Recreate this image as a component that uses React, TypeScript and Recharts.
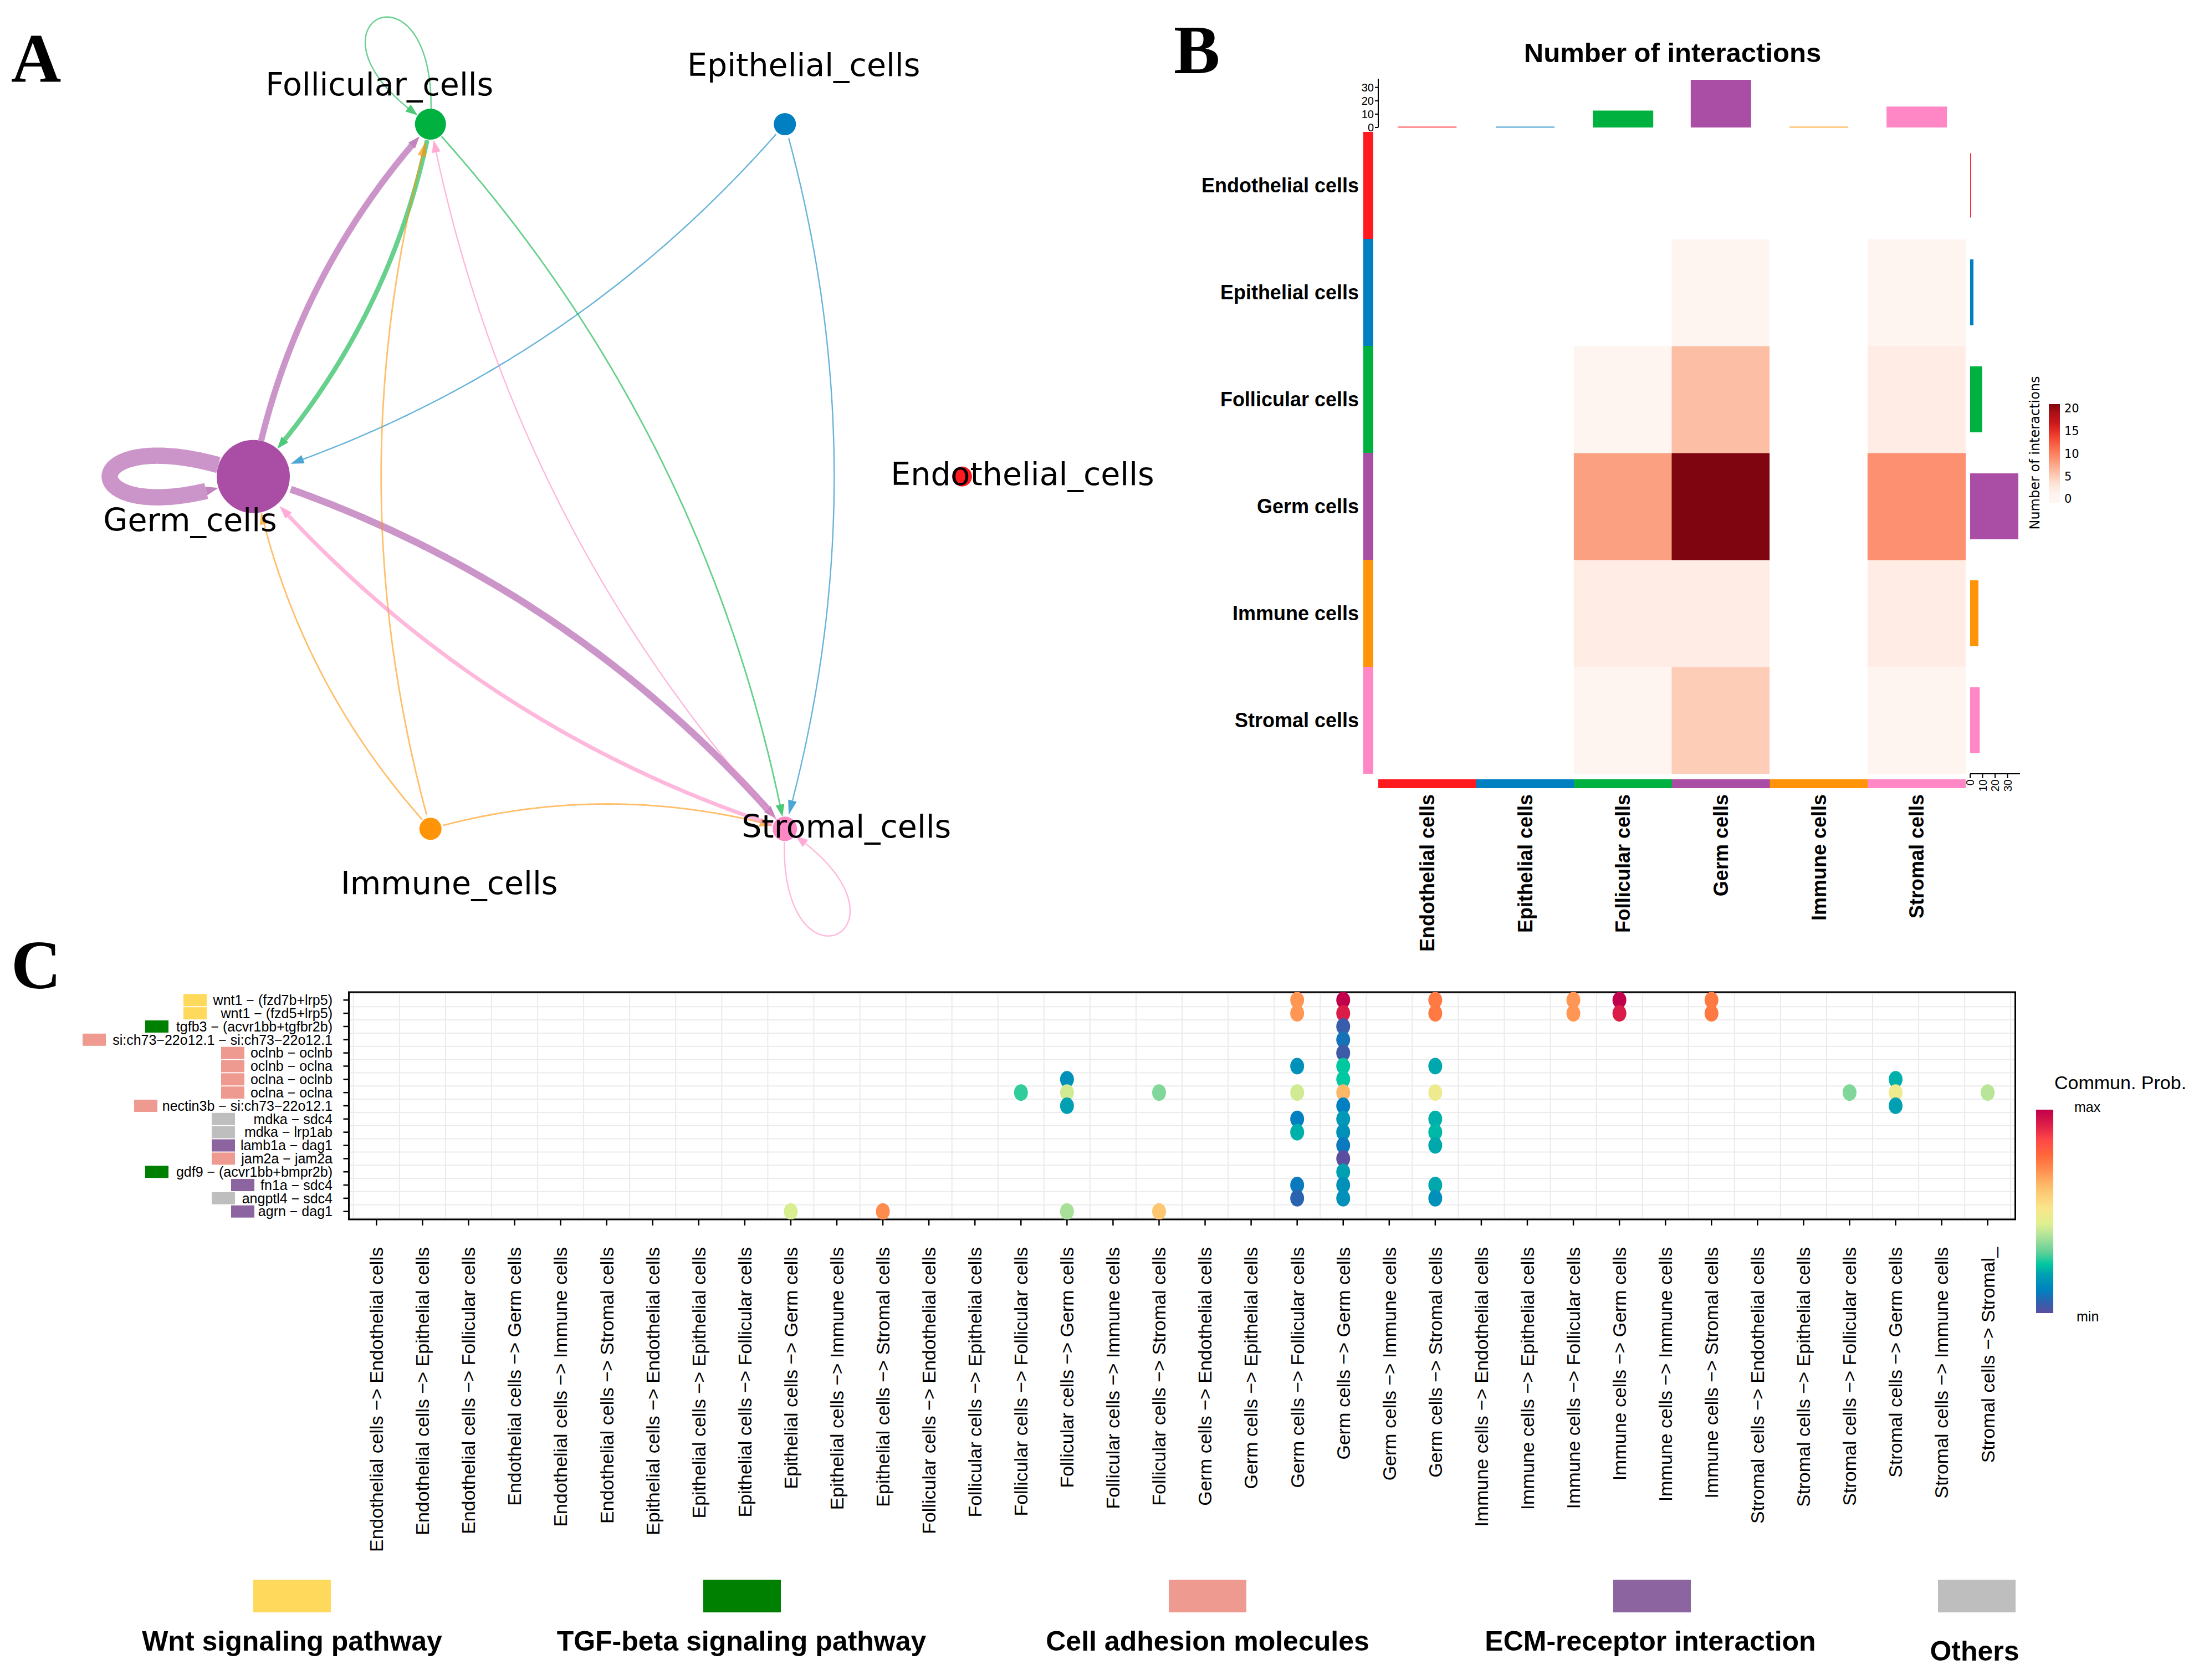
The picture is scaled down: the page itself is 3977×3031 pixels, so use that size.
import React from 'react';
import {
  ScatterChart, Scatter, XAxis, YAxis, ReferenceLine, ReferenceArea, CartesianGrid,
  BarChart, Bar, Cell,
} from 'recharts';

// ============================ DATA ============================
const cellGroups = ['Endothelial_cells', 'Epithelial_cells', 'Follicular_cells', 'Germ_cells', 'Immune_cells', 'Stromal_cells'];
const cellGroupNames = ['Endothelial cells', 'Epithelial cells', 'Follicular cells', 'Germ cells', 'Immune cells', 'Stromal cells'];

// number of interactions: sender (row) -> receiver (column)
const fromEndothelial = [0, 0, 0, 0, 0, 0];
const fromEpithelial = [0, 0, 0, 1, 0, 1];
const fromFollicular = [0, 0, 1, 6, 0, 2];
const fromGerm = [0, 0, 8, 21, 0, 9];
const fromImmune = [0, 0, 2, 2, 0, 2];
const fromStromal = [0, 0, 1, 5, 0, 1];
const interactionCounts = [fromEndothelial, fromEpithelial, fromFollicular, fromGerm, fromImmune, fromStromal];

const incomingTotals = [0, 0, 12, 35, 0, 15];
const outgoingTotals = [0, 2, 9, 38, 6, 7];
const barAxisTicks = [0, 10, 20, 30];
const heatLegendTicks = [0, 5, 10, 15, 20];

// circle layout of the network and vertex sizes
const layoutX = [1, 0.5, -0.5, -1, -0.5, 0.5];
const layoutY = [0, 0.866, 0.866, 0, -0.866, -0.866];
const vertexSize = [18, 20, 28, 66, 20, 22];

// panel C
const lrPairs = [
  'wnt1 \u2212 (fzd7b+lrp5)',
  'wnt1 \u2212 (fzd5+lrp5)',
  'tgfb3 \u2212 (acvr1bb+tgfbr2b)',
  'si:ch73\u221222o12.1 \u2212 si:ch73\u221222o12.1',
  'oclnb \u2212 oclnb',
  'oclnb \u2212 oclna',
  'oclna \u2212 oclnb',
  'oclna \u2212 oclna',
  'nectin3b \u2212 si:ch73\u221222o12.1',
  'mdka \u2212 sdc4',
  'mdka \u2212 lrp1ab',
  'lamb1a \u2212 dag1',
  'jam2a \u2212 jam2a',
  'gdf9 \u2212 (acvr1bb+bmpr2b)',
  'fn1a \u2212 sdc4',
  'angptl4 \u2212 sdc4',
  'agrn \u2212 dag1',
];
const pathwayNames = ['Wnt signaling pathway', 'TGF-beta signaling pathway', 'Cell adhesion molecules', 'ECM-receptor interaction', 'Others'];
const lrPathway = [
  'Wnt signaling pathway', 'Wnt signaling pathway', 'TGF-beta signaling pathway', 'Cell adhesion molecules',
  'Cell adhesion molecules', 'Cell adhesion molecules', 'Cell adhesion molecules', 'Cell adhesion molecules',
  'Cell adhesion molecules', 'Others', 'Others', 'ECM-receptor interaction', 'Cell adhesion molecules',
  'TGF-beta signaling pathway', 'ECM-receptor interaction', 'Others', 'ECM-receptor interaction',
];
const senderReceiver = [
  'Endothelial cells \u2212> Endothelial cells', 'Endothelial cells \u2212> Epithelial cells', 'Endothelial cells \u2212> Follicular cells',
  'Endothelial cells \u2212> Germ cells', 'Endothelial cells \u2212> Immune cells', 'Endothelial cells \u2212> Stromal cells',
  'Epithelial cells \u2212> Endothelial cells', 'Epithelial cells \u2212> Epithelial cells', 'Epithelial cells \u2212> Follicular cells',
  'Epithelial cells \u2212> Germ cells', 'Epithelial cells \u2212> Immune cells', 'Epithelial cells \u2212> Stromal cells',
  'Follicular cells \u2212> Endothelial cells', 'Follicular cells \u2212> Epithelial cells', 'Follicular cells \u2212> Follicular cells',
  'Follicular cells \u2212> Germ cells', 'Follicular cells \u2212> Immune cells', 'Follicular cells \u2212> Stromal cells',
  'Germ cells \u2212> Endothelial cells', 'Germ cells \u2212> Epithelial cells', 'Germ cells \u2212> Follicular cells',
  'Germ cells \u2212> Germ cells', 'Germ cells \u2212> Immune cells', 'Germ cells \u2212> Stromal cells',
  'Immune cells \u2212> Endothelial cells', 'Immune cells \u2212> Epithelial cells', 'Immune cells \u2212> Follicular cells',
  'Immune cells \u2212> Germ cells', 'Immune cells \u2212> Immune cells', 'Immune cells \u2212> Stromal cells',
  'Stromal cells \u2212> Endothelial cells', 'Stromal cells \u2212> Epithelial cells', 'Stromal cells \u2212> Follicular cells',
  'Stromal cells \u2212> Germ cells', 'Stromal cells \u2212> Immune cells', 'Stromal cells \u2212> Stromal_',
];
// dots: sender->receiver index, ligand-receptor index, scaled communication probability
const dotPair = [
  9, 11, 14, 15, 15, 15, 15, 17, 17,
  20, 20, 20, 20, 20, 20, 20, 20,
  21, 21, 21, 21, 21, 21, 21, 21, 21, 21, 21, 21, 21, 21, 21, 21,
  23, 23, 23, 23, 23, 23, 23, 23, 23,
  26, 26, 27, 27, 29, 29, 32, 33, 33, 33, 35,
];
const dotLR = [
  16, 16, 7, 6, 7, 8, 16, 7, 16,
  0, 1, 5, 7, 9, 10, 14, 15,
  0, 1, 2, 3, 4, 5, 6, 7, 8, 9, 10, 11, 12, 13, 14, 15,
  0, 1, 5, 7, 9, 10, 11, 14, 15,
  0, 1, 0, 1, 0, 1, 7, 6, 7, 8, 7,
];
const dotProb = [
  0.43, 0.71, 0.27, 0.15, 0.42, 0.19, 0.37, 0.33, 0.60,
  0.69, 0.69, 0.15, 0.42, 0.11, 0.21, 0.10, 0.06,
  1.0, 0.93, 0.04, 0.085, 0.035, 0.24, 0.24, 0.63, 0.11, 0.17, 0.15, 0.10, 0.0, 0.19, 0.15, 0.15,
  0.74, 0.74, 0.20, 0.48, 0.21, 0.22, 0.20, 0.20, 0.15,
  0.69, 0.69, 1.0, 0.93, 0.74, 0.74, 0.33, 0.21, 0.48, 0.19, 0.39,
];

// ============================ STYLE ============================
const SANS = "'Liberation Sans', Arial, Helvetica, sans-serif";
const DEJAVU = "'DejaVu Sans', 'Liberation Sans', sans-serif";
const SERIF = "'Liberation Serif', 'Times New Roman', serif";
const GROUP_COLORS = ['#FF1A1F', '#0080C0', '#00B140', '#AA4EA5', '#FF9408', '#FF87C5'];
const PATHWAY_COLORS = ['#FFD95C', '#008000', '#EE9A90', '#8B64A0', '#BEBEBE'];
const LABEL_OFFSETS = [[109, -2], [34, -104], [-92, -69], [-114, 81], [34, 101], [111, -1]];
const LR_SWATCH_X = [331, 331, 262, 149, 399, 399, 399, 399, 242, 382, 382, 382, 382, 262, 417, 382, 417];
const REDS = ['#FFF5F0', '#FEE0D2', '#FCBBA1', '#FC9272', '#FB6A4A', '#EF3B2C', '#CB181D', '#A50F15', '#67000D'];
const SPECTRAL: [number, string][] = [
  [0, '#5B4EA0'], [0.06, '#2A64B0'], [0.11, '#0080C0'], [0.19, '#00A0B2'], [0.24, '#00C8A0'],
  [0.30, '#62D098'], [0.37, '#A8E09A'], [0.44, '#E0F090'], [0.52, '#FBE48A'], [0.62, '#FDBE6A'],
  [0.70, '#FF9050'], [0.77, '#FF6A3A'], [0.85, '#FF4848'], [0.92, '#E02048'], [1, '#C0004A'],
];

function hexRgb(h: string) {
  const n = parseInt(h.slice(1), 16);
  return [(n >> 16) & 255, (n >> 8) & 255, n & 255];
}
function mix(a: string, b: string, f: number) {
  const A = hexRgb(a), B = hexRgb(b);
  const c = A.map((v, i) => Math.round(v + (B[i] - v) * f));
  return '#' + c.map((v) => v.toString(16).padStart(2, '0')).join('');
}
function positioned(stops: [number, string][], t: number) {
  const tt = Math.max(0, Math.min(1, t));
  for (let i = 0; i < stops.length - 1; i++) {
    if (tt <= stops[i + 1][0]) {
      const f = (tt - stops[i][0]) / (stops[i + 1][0] - stops[i][0]);
      return mix(stops[i][1], stops[i + 1][1], f);
    }
  }
  return stops[stops.length - 1][1];
}
const REDS_STOPS: [number, string][] = REDS.map((c, i) => [i / (REDS.length - 1), c]);
const HEAT_MIN = 1, HEAT_MAX = 22;
function heatColor(v: number) {
  if (v <= 0) return '#FFFFFF';
  return positioned(REDS_STOPS, (v - HEAT_MIN) / (HEAT_MAX - HEAT_MIN));
}
function heatRamp(v: number) {
  return positioned(REDS_STOPS, (v - HEAT_MIN) / (HEAT_MAX - HEAT_MIN));
}
const probColor = (p: number) => positioned(SPECTRAL, p);

// ============================ PANEL A ============================
const A_W = 2110, A_H = 1750;
const A_XDOM: [number, number] = [-1.7146, -1.7146 + A_W / 639.5];
const A_YDOM: [number, number] = [1.1712 - A_H / 734, 1.1712];
const CURVE = 0.14;
const ARROW_LEN = 20, ARROW_HALF = 8;
const edgeWidth = (n: number) => Math.max(2.4, 1.4 * n);

function trimmedPath(pts: number[][], a: number, c: number) {
  return pts.slice(a, c + 1).map((p, i) => `${i ? 'L' : 'M'}${p[0].toFixed(1)},${p[1].toFixed(1)}`).join('');
}

function arrowAt(pts: number[][], a: number, b: number) {
  const tip = pts[b];
  let c = b;
  while (c > a && Math.hypot(pts[c][0] - tip[0], pts[c][1] - tip[1]) < ARROW_LEN) c--;
  const base = pts[c];
  const ux = tip[0] - base[0], uy = tip[1] - base[1];
  const L = Math.hypot(ux, uy) || 1;
  const nx = -uy / L, ny = ux / L;
  const poly = `${tip[0]},${tip[1]} ${base[0] + nx * ARROW_HALF},${base[1] + ny * ARROW_HALF} ${base[0] - nx * ARROW_HALF},${base[1] - ny * ARROW_HALF}`;
  return { c, poly };
}

function EdgeShape(props: any) {
  const { x1, y1, x2, y2, rs, rt, color, width } = props;
  if (![x1, y1, x2, y2].every(Number.isFinite)) return null;
  const dx = x2 - x1, dy = y2 - y1;
  const cx = (x1 + x2) / 2 + CURVE * dy, cy = (y1 + y2) / 2 - CURVE * dx;
  const pts: number[][] = [];
  const N = 200;
  for (let i = 0; i <= N; i++) {
    const t = i / N, u = 1 - t;
    pts.push([u * u * x1 + 2 * u * t * cx + t * t * x2, u * u * y1 + 2 * u * t * cy + t * t * y2]);
  }
  let a = 0;
  while (a < N && Math.hypot(pts[a][0] - x1, pts[a][1] - y1) < rs) a++;
  let b = N;
  while (b > a && Math.hypot(pts[b][0] - x2, pts[b][1] - y2) < rt) b--;
  const { c, poly } = arrowAt(pts, a, b);
  return (
    <g>
      <path d={trimmedPath(pts, a, c)} fill="none" stroke={color} strokeOpacity={0.6} strokeWidth={width} />
      <polygon points={poly} fill={color} fillOpacity={0.7} />
    </g>
  );
}

function LoopShape(props: any) {
  const { x1, y1, x2, y2, r, reach, spread, color, width } = props;
  if (![x1, y1, x2, y2].every(Number.isFinite)) return null;
  const dx = x2 - x1, dy = y2 - y1;
  const L = Math.hypot(dx, dy) || 1;
  const ux = dx / L, uy = dy / L;
  const D = reach / (0.75 * Math.cos(spread));
  const rot = (ang: number) => [ux * Math.cos(ang) - uy * Math.sin(ang), ux * Math.sin(ang) + uy * Math.cos(ang)];
  const pa = rot(spread), pb = rot(-spread);
  const P1 = [x2 + D * pa[0], y2 + D * pa[1]], P2 = [x2 + D * pb[0], y2 + D * pb[1]];
  const pts: number[][] = [];
  const N = 200;
  for (let i = 0; i <= N; i++) {
    const t = i / N, u = 1 - t;
    const w0 = u * u * u + t * t * t, w1 = 3 * u * u * t, w2 = 3 * u * t * t;
    pts.push([w0 * x2 + w1 * P1[0] + w2 * P2[0], w0 * y2 + w1 * P1[1] + w2 * P2[1]]);
  }
  let a = 0;
  while (a < N && Math.hypot(pts[a][0] - x2, pts[a][1] - y2) < r) a++;
  let b = N;
  while (b > a && Math.hypot(pts[b][0] - x2, pts[b][1] - y2) < r) b--;
  const { c, poly } = arrowAt(pts, a, b);
  return (
    <g>
      <path d={trimmedPath(pts, a, c)} fill="none" stroke={color} strokeOpacity={0.6} strokeWidth={width} />
      <polygon points={poly} fill={color} fillOpacity={0.7} />
    </g>
  );
}

function NodeShape(props: any) {
  const { cx, cy, payload } = props;
  if (!Number.isFinite(cx) || !Number.isFinite(cy)) return null;
  const i = payload.idx;
  const off = LABEL_OFFSETS[i];
  return (
    <g>
      <circle cx={cx} cy={cy} r={vertexSize[i]} fill={GROUP_COLORS[i]} />
      <text x={cx + off[0]} y={cy + off[1]} dy="0.3em" textAnchor="middle" fontFamily={DEJAVU} fontSize={57} fill="#000">
        {cellGroups[i]}
      </text>
    </g>
  );
}

const nodeData = cellGroups.map((name, i) => ({ x: layoutX[i], y: layoutY[i], idx: i, name }));
const edgeList: { s: number; t: number; n: number }[] = [];
const loopList: { s: number; n: number }[] = [];
interactionCounts.forEach((row, s) => row.forEach((n, t) => {
  if (n > 0) (s === t ? loopList.push({ s, n }) : edgeList.push({ s, t, n }));
}));

function PanelA() {
  return (
    <div style={{ position: 'absolute', left: 0, top: 0 }}>
      <ScatterChart width={A_W} height={A_H} margin={{ top: 0, right: 0, bottom: 0, left: 0 }} style={{ overflow: 'visible' }}>
        <XAxis type="number" dataKey="x" domain={A_XDOM} hide allowDataOverflow />
        <YAxis type="number" dataKey="y" domain={A_YDOM} hide allowDataOverflow />
        {edgeList.map((e) => (
          <ReferenceLine
            key={`e${e.s}-${e.t}`}
            ifOverflow="visible"
            segment={[{ x: layoutX[e.s], y: layoutY[e.s] }, { x: layoutX[e.t], y: layoutY[e.t] }]}
            shape={(p: any) => (
              <EdgeShape {...p} rs={vertexSize[e.s]} rt={vertexSize[e.t]} color={GROUP_COLORS[e.s]} width={edgeWidth(e.n)} />
            )}
          />
        ))}
        {loopList.map((l) => (
          <ReferenceLine
            key={`l${l.s}`}
            ifOverflow="visible"
            segment={[{ x: 0, y: 0 }, { x: layoutX[l.s], y: layoutY[l.s] }]}
            shape={(p: any) => (
              <LoopShape
                {...p}
                r={vertexSize[l.s]}
                reach={l.n > 5 ? 259 : 212}
                spread={l.n > 5 ? 0.36 : 0.53}
                color={GROUP_COLORS[l.s]}
                width={edgeWidth(l.n)}
              />
            )}
          />
        ))}
        <Scatter data={nodeData} isAnimationActive={false} shape={(p: any) => <NodeShape {...p} />} />
      </ScatterChart>
    </div>
  );
}

// ============================ PANEL B ============================
const HM = { left: 2487, top: 238, width: 1060, height: 1158 };

function BarShape(p: any) {
  const { x, y, width, height, fill } = p;
  if (![x, y, width, height].every(Number.isFinite)) return null;
  return <path d={`M${x},${y}h${width}v${height}h${-width}Z`} fill={fill} stroke={fill} strokeWidth={3} />;
}

const heatData = cellGroupNames.map((name) => {
  const o: any = { name };
  cellGroupNames.forEach((_, i) => { o[`row${i}`] = 1; });
  return o;
});
const stripData = cellGroupNames.map((name) => ({ name, band: 1 }));
const incomingData = cellGroupNames.map((name, j) => ({ name, value: incomingTotals[j] }));
const outgoingData = cellGroupNames.map((name, i) => ({ name, value: outgoingTotals[i] }));

function RowLabelTick(props: any) {
  const { x, y, payload } = props;
  return (
    <text x={x} y={y} dy="0.35em" textAnchor="end" fontFamily={SANS} fontWeight="bold" fontSize={36} fill="#000">
      {payload.value}
    </text>
  );
}
function ColLabelTick(props: any) {
  const { x, y, payload } = props;
  return (
    <text x={x} y={y} dy="0.35em" textAnchor="end" transform={`rotate(-90 ${x} ${y})`} fontFamily={SANS} fontWeight="bold" fontSize={36} fill="#000">
      {payload.value}
    </text>
  );
}
function SmallRotTick(props: any) {
  const { x, y, payload } = props;
  return (
    <text x={x} y={y} dy="0.35em" textAnchor="end" transform={`rotate(-90 ${x} ${y})`} fontFamily={SANS} fontSize={20} fill="#000">
      {payload.value}
    </text>
  );
}
function SmallLeftTick(props: any) {
  const { x, y, payload } = props;
  return (
    <text x={x} y={y} dy="0.35em" textAnchor="end" fontFamily={SANS} fontSize={20} fill="#000">
      {payload.value}
    </text>
  );
}

function PanelB() {
  const rowsBottomUp = [5, 4, 3, 2, 1, 0];
  return (
    <>
      {/* heatmap body */}
      <div style={{ position: 'absolute', left: HM.left, top: HM.top }}>
        <BarChart width={HM.width} height={HM.height} data={heatData} margin={{ top: 0, right: 0, bottom: 0, left: 0 }} barCategoryGap={0} barGap={0}>
          <XAxis dataKey="name" type="category" hide />
          <YAxis type="number" domain={[0, 6]} hide allowDataOverflow />
          {rowsBottomUp.map((i) => (
            <Bar key={i} dataKey={`row${i}`} stackId="heat" isAnimationActive={false}>
              {cellGroupNames.map((_, j) => {
                const col = heatColor(interactionCounts[i][j]);
                return <Cell key={j} fill={col} stroke={col} strokeWidth={1} />;
              })}
            </Bar>
          ))}
        </BarChart>
      </div>
      {/* top annotation: incoming */}
      <div style={{ position: 'absolute', left: HM.left - 47, top: 130 }}>
        <BarChart width={HM.width + 47} height={116} data={incomingData} margin={{ top: 12, right: 0, bottom: 16, left: 0 }} barCategoryGap="20%">
          <XAxis dataKey="name" type="category" hide />
          <YAxis
            type="number" domain={[0, 36.5]} ticks={barAxisTicks} interval={0} width={47} tickSize={6} tickMargin={2} allowDataOverflow
            axisLine={{ stroke: '#000', strokeWidth: 2 }} tickLine={{ stroke: '#000', strokeWidth: 2 }}
            tick={(p: any) => <SmallLeftTick {...p} />}
          />
          <Bar dataKey="value" isAnimationActive={false} shape={(p: any) => <BarShape {...p} />}>
            {incomingData.map((_, j) => <Cell key={j} fill={GROUP_COLORS[j]} />)}
          </Bar>
        </BarChart>
      </div>
      {/* right annotation: outgoing */}
      <div style={{ position: 'absolute', left: 3540, top: HM.top }}>
        <BarChart layout="vertical" width={120} height={HM.height + 60} data={outgoingData} margin={{ top: 0, right: 15, bottom: 0, left: 15 }} barCategoryGap="20%">
          <XAxis
            type="number" domain={[0, 40]} ticks={barAxisTicks} height={60} tickSize={8} tickMargin={2} allowDataOverflow
            axisLine={{ stroke: '#000', strokeWidth: 2 }} tickLine={{ stroke: '#000', strokeWidth: 2 }}
            tick={(p: any) => <SmallRotTick {...p} />} interval={0}
          />
          <YAxis type="category" dataKey="name" hide />
          <Bar dataKey="value" isAnimationActive={false} shape={(p: any) => <BarShape {...p} />}>
            {outgoingData.map((_, i) => <Cell key={i} fill={GROUP_COLORS[i]} />)}
          </Bar>
        </BarChart>
      </div>
      {/* left row colour strip + row labels */}
      <div style={{ position: 'absolute', left: 2000, top: HM.top }}>
        <BarChart layout="vertical" width={478} height={HM.height} data={stripData} margin={{ top: 0, right: 0, bottom: 0, left: 0 }} barCategoryGap={0}>
          <XAxis type="number" domain={[0, 1]} hide allowDataOverflow />
          <YAxis
            type="category" dataKey="name" width={460} tickSize={0} tickMargin={8} axisLine={false} tickLine={false}
            interval={0} tick={(p: any) => <RowLabelTick {...p} />}
          />
          <Bar dataKey="band" isAnimationActive={false}>
            {stripData.map((_, i) => <Cell key={i} fill={GROUP_COLORS[i]} />)}
          </Bar>
        </BarChart>
      </div>
      {/* bottom column colour strip + column labels */}
      <div style={{ position: 'absolute', left: HM.left, top: 1406 }}>
        <BarChart width={HM.width} height={16 + 330} data={stripData} margin={{ top: 0, right: 0, bottom: 0, left: 0 }} barCategoryGap={0}>
          <XAxis
            type="category" dataKey="name" height={330} tickSize={0} tickMargin={11} axisLine={false} tickLine={false}
            interval={0} tick={(p: any) => <ColLabelTick {...p} />}
          />
          <YAxis type="number" domain={[0, 1]} hide allowDataOverflow />
          <Bar dataKey="band" isAnimationActive={false}>
            {stripData.map((_, i) => <Cell key={i} fill={GROUP_COLORS[i]} />)}
          </Bar>
        </BarChart>
      </div>
    </>
  );
}

// ============================ PANEL C ============================
const dotData = dotPair.map((x, i) => ({ x, y: dotLR[i], prob: dotProb[i] }));
const pairTicks = senderReceiver.map((_, i) => i);
const lrTicks = lrPairs.map((_, i) => i);
const gridX = Array.from({ length: senderReceiver.length + 1 }, (_, j) => j - 0.5);
const gridY = Array.from({ length: lrPairs.length + 1 }, (_, k) => k - 0.5);
const C_TOP = 1750;

function PairTick(props: any) {
  const { x, y, payload } = props;
  return (
    <text x={x} y={y} dy="0.35em" textAnchor="end" transform={`rotate(-90 ${x} ${y})`} fontFamily={SANS} fontSize={34} fill="#000">
      {senderReceiver[payload.value]}
    </text>
  );
}
function LrTick(props: any) {
  const { x, y, payload } = props;
  const i = payload.value as number;
  const pw = pathwayNames.indexOf(lrPathway[i]);
  return (
    <g>
      <rect x={LR_SWATCH_X[i]} y={y - 11} width={42} height={22} fill={PATHWAY_COLORS[pw]} />
      <text x={x} y={y} dy="0.35em" textAnchor="end" fontFamily={SANS} fontSize={25} fill="#000">
        {lrPairs[i]}
      </text>
    </g>
  );
}
function DotShape(props: any) {
  const { cx, cy, payload } = props;
  if (!Number.isFinite(cx) || !Number.isFinite(cy)) return null;
  return <ellipse cx={cx} cy={cy} rx={12.5} ry={15} fill={probColor(payload.prob)} />;
}

function PanelC() {
  return (
    <div style={{ position: 'absolute', left: 0, top: C_TOP }}>
      <ScatterChart width={3977} height={1100} margin={{ top: 40, right: 340.5, bottom: 50, left: 0 }}>
        <CartesianGrid verticalValues={gridX} horizontalValues={gridY} stroke="#EBEBEB" strokeWidth={2} />
        <XAxis
          type="number" dataKey="x" domain={[-0.6, 35.6]} ticks={pairTicks} interval={0} height={600}
          tickSize={11} tickMargin={39} axisLine={false} tickLine={{ stroke: '#000', strokeWidth: 2.5 }}
          tick={(p: any) => <PairTick {...p} />} allowDataOverflow
        />
        <YAxis
          type="number" dataKey="y" domain={[-0.6, 16.6]} reversed ticks={lrTicks} interval={0} width={629.5}
          tickSize={10} tickMargin={19.5} axisLine={false} tickLine={{ stroke: '#000', strokeWidth: 2.5 }}
          tick={(p: any) => <LrTick {...p} />} allowDataOverflow
        />
        <Scatter data={dotData} isAnimationActive={false} shape={(p: any) => <DotShape {...p} />} />
        <ReferenceArea x1={-0.6} x2={35.6} y1={-0.6} y2={16.6} fill="none" fillOpacity={0} stroke="#000" strokeWidth={3} ifOverflow="visible" />
      </ScatterChart>
    </div>
  );
}

// ============================ STATIC TEXT / LEGENDS ============================
function Overlay() {
  const heatStops: number[] = [];
  for (let v = -0.86; v <= 21.0001; v += 0.91) heatStops.push(v);
  const legendTop = 729, legendBottom = 907;
  const pxPerUnit = 8.15;
  const pathwayRectX = [457, 1269, 2109, 2911, 3497];
  const pathwayLabelX = [527, 1338, 2179, 2978, 3563];
  const pathwayLabelY = [2978, 2978, 2978, 2978, 2996];
  return (
    <svg width={3977} height={3031} style={{ position: 'absolute', left: 0, top: 0 }}>
      <defs>
        <linearGradient id="heatGrad" x1="0" y1="1" x2="0" y2="0">
          {heatStops.map((v, i) => (
            <stop key={i} offset={(v + 0.86) / 21.86} stopColor={heatRamp(Math.max(v, HEAT_MIN))} />
          ))}
        </linearGradient>
        <linearGradient id="probGrad" x1="0" y1="1" x2="0" y2="0">
          {SPECTRAL.map(([t, c], i) => <stop key={i} offset={t} stopColor={c} />)}
        </linearGradient>
      </defs>
      <text x={20} y={147} fontFamily={SERIF} fontWeight="bold" fontSize={125} fill="#000">A</text>
      <text x={2118} y={132} fontFamily={SERIF} fontWeight="bold" fontSize={125} fill="#000">B</text>
      <text x={20} y={1783} fontFamily={SERIF} fontWeight="bold" fontSize={125} fill="#000">C</text>

      <text x={3018} y={112} textAnchor="middle" fontFamily={SANS} fontWeight="bold" fontSize={49} fill="#000">Number of interactions</text>

      {/* heatmap colour legend */}
      <text x={3672} y={817} dy="0.35em" textAnchor="middle" transform="rotate(-90 3672 817)" fontFamily={DEJAVU} fontSize={24} fill="#000">
        Number of interactions
      </text>
      <rect x={3697} y={legendTop} width={20} height={legendBottom - legendTop} fill="url(#heatGrad)" />
      {heatLegendTicks.map((t) => (
        <text key={t} x={3725} y={900 - t * pxPerUnit} dy="0.35em" fontFamily={DEJAVU} fontSize={21} fill="#000">{t}</text>
      ))}

      {/* communication probability legend */}
      <text x={3707} y={1965} fontFamily={SANS} fontSize={34} fill="#000">Commun. Prob.</text>
      <rect x={3674} y={2002} width={31} height={367} fill="url(#probGrad)" />
      <text x={3743} y={2006} fontFamily={SANS} fontSize={25} fill="#000">max</text>
      <text x={3747} y={2384} fontFamily={SANS} fontSize={25} fill="#000">min</text>

      {/* pathway legend */}
      {pathwayNames.map((name, k) => (
        <g key={name}>
          <rect x={pathwayRectX[k]} y={2850} width={140} height={59} fill={PATHWAY_COLORS[k]} />
          <text x={pathwayLabelX[k]} y={pathwayLabelY[k]} textAnchor="middle" fontFamily={SANS} fontWeight="bold" fontSize={50} fill="#000">
            {name}
          </text>
        </g>
      ))}
    </svg>
  );
}

export default function App() {
  return (
    <div style={{ position: 'absolute', left: 0, top: 0, width: 3977, height: 3031, background: '#fff', overflow: 'hidden' }}>
      <Overlay />
      <PanelA />
      <PanelB />
      <PanelC />
    </div>
  );
}
